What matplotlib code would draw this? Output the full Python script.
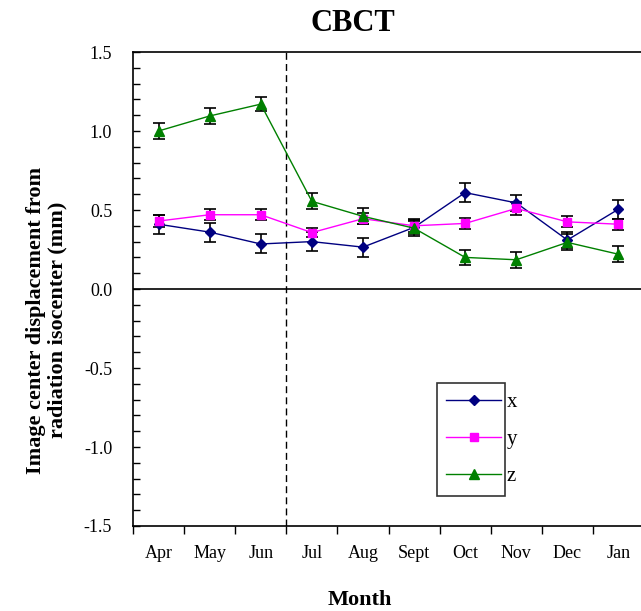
import matplotlib
matplotlib.use("Agg")
import matplotlib.pyplot as plt
from matplotlib.lines import Line2D
import numpy as np

months = ["Apr", "May", "Jun", "Jul", "Aug", "Sept", "Oct", "Nov", "Dec", "Jan"]
x_vals = [0.41, 0.36, 0.285, 0.30, 0.265, 0.39, 0.61, 0.545, 0.31, 0.505]
x_err = [0.06, 0.06, 0.06, 0.06, 0.06, 0.04, 0.06, 0.05, 0.05, 0.06]
y_vals = [0.43, 0.47, 0.47, 0.357, 0.445, 0.40, 0.415, 0.51, 0.425, 0.41]
y_err = [0.04, 0.035, 0.035, 0.03, 0.035, 0.04, 0.035, 0.04, 0.035, 0.035]
z_vals = [1.00, 1.095, 1.17, 0.555, 0.46, 0.385, 0.20, 0.185, 0.295, 0.22]
z_err = [0.05, 0.05, 0.045, 0.05, 0.05, 0.05, 0.05, 0.05, 0.05, 0.05]

plt.rcParams['font.family'] = ['Liberation Serif', 'DejaVu Serif']

fig = plt.figure(figsize=(6.41, 6.11), dpi=100)
ax = fig.add_axes([133/641, 1 - 526/611, 511/641, 474/611])

pos = np.arange(len(months))
series = [
    (x_vals, x_err, "x", "#000080", "D", 5.5),
    (y_vals, y_err, "y", "#FF00FF", "s", 6),
    (z_vals, z_err, "z", "#008000", "^", 7),
]
handles = []
for vals, err, lab, col, mk, ms in series:
    ax.errorbar(pos, vals, yerr=err, color=col, marker=mk, markersize=ms,
                linewidth=1.0, ecolor="black", elinewidth=1.2, capsize=4,
                capthick=1.2, zorder=3)
    handles.append(Line2D([], [], color=col, marker=mk, markersize=ms - 0.5,
                          linewidth=1.0, label=lab))

ax.axhline(0, color="black", linewidth=1.2, zorder=2)
ax.axvline(2.5, color="black", linestyle=(0, (5, 3)), linewidth=1.0, zorder=2)

ax.set_xlim(-0.5, len(months) - 0.5)
ax.set_ylim(-1.5, 1.5)
ax.set_xticks(pos)
ax.set_xticklabels(months, fontsize=13)
ax.set_xticks(np.arange(-0.5, len(months), 1.0), minor=True)
ax.tick_params(axis="x", which="major", length=0, pad=14)
ax.tick_params(axis="x", which="minor", length=6, direction="out", width=1)
yt = np.arange(-1.5, 1.51, 0.5)
ax.set_yticks(yt)
ax.set_yticklabels([f"{v:.1f}" for v in yt], fontsize=13)
ax.set_yticks(np.arange(-1.5, 1.51, 0.1), minor=True)
ax.tick_params(axis="y", which="both", direction="in", length=5, width=1, pad=15)

for s in ["left", "top", "bottom"]:
    ax.spines[s].set_linewidth(1.2)
ax.spines["right"].set_visible(False)

fig.text(353/641, 1 - 31/611, "CBCT", fontsize=22, fontweight="bold",
         ha="center", va="baseline")
fig.text(360/641, 1 - 605/611, "Month", fontsize=16, fontweight="bold",
         ha="center", va="baseline")
fig.text(47/641, 1 - 320/611, "Image center displacement from\nradiation isocenter (mm)",
         fontsize=16, fontweight="bold", rotation=90, ha="center", va="center",
         multialignment="center", linespacing=1.1)

leg = ax.legend(handles=handles, loc="upper left",
                bbox_to_anchor=(0.595, 0.302, 0.133, 0.0),
                mode="expand", fontsize=15, frameon=True, fancybox=False,
                edgecolor="black", handlelength=2.6, labelspacing=0.85,
                borderaxespad=0, handletextpad=0.3, borderpad=0.45)
leg.get_frame().set_linewidth(1.2)

fig.savefig("out.png", dpi=100)
